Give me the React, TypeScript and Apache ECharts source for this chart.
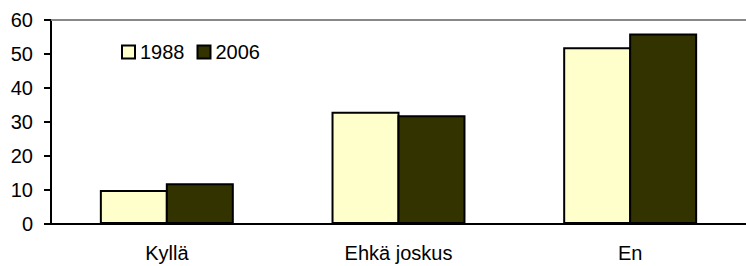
import React, { useEffect, useRef } from "react";
import * as echarts from "echarts";

const categories = ["Kyllä", "Ehkä joskus", "En"];
const series1988 = [10, 33, 52];
const series2006 = [12, 32, 56];
const seriesNames = ["1988", "2006"];

const FONT = 'Arial, "Liberation Sans", sans-serif';

export default function App() {
  const ref = useRef<HTMLDivElement>(null);
  useEffect(() => {
    if (!ref.current) return;
    const chart = echarts.init(ref.current, null, { renderer: "svg" });
    chart.setOption({
      animation: false,
      textStyle: { fontFamily: FONT },
      grid: { left: 51, top: 20, width: 704, bottom: 42, containLabel: false },
      legend: {
        left: 116,
        top: 37,
        itemWidth: 13,
        itemHeight: 13,
        itemGap: 12,
        icon: "rect",
        textStyle: { fontSize: 20, color: "#000", fontFamily: FONT },
        data: seriesNames,
      },
      xAxis: [
        {
          type: "category",
          data: categories,
          axisLine: { lineStyle: { color: "#000", width: 2 } },
          axisTick: { length: 7, lineStyle: { color: "#000", width: 2 } },
          axisLabel: { fontSize: 20, color: "#000", margin: 19, fontFamily: FONT },
        },
        {
          type: "category",
          data: categories,
          position: "top",
          axisLine: { lineStyle: { color: "#888", width: 2 } },
          axisTick: { show: false },
          axisLabel: { show: false },
        },
      ],
      yAxis: {
        type: "value",
        min: 0,
        max: 60,
        interval: 10,
        axisLine: { show: true, lineStyle: { color: "#000", width: 2 } },
        axisTick: { show: true, length: 7, lineStyle: { color: "#000", width: 2 } },
        splitLine: { show: false },
        axisLabel: { fontSize: 20, color: "#000", margin: 18, fontFamily: FONT },
      },
      series: [
        {
          name: seriesNames[0],
          type: "bar",
          data: series1988,
          barWidth: 68,
          barGap: "-3%",
          itemStyle: { color: "#FFFFCC", borderColor: "#000", borderWidth: 2 },
        },
        {
          name: seriesNames[1],
          type: "bar",
          data: series2006,
          barWidth: 68,
          barGap: "-3%",
          itemStyle: { color: "#333300", borderColor: "#000", borderWidth: 2 },
        },
      ],
    });
    return () => chart.dispose();
  }, []);
  return (
    <div
      ref={ref}
      style={{ position: "fixed", left: 0, top: 0, width: 746, height: 266, background: "#fff" }}
    />
  );
}
